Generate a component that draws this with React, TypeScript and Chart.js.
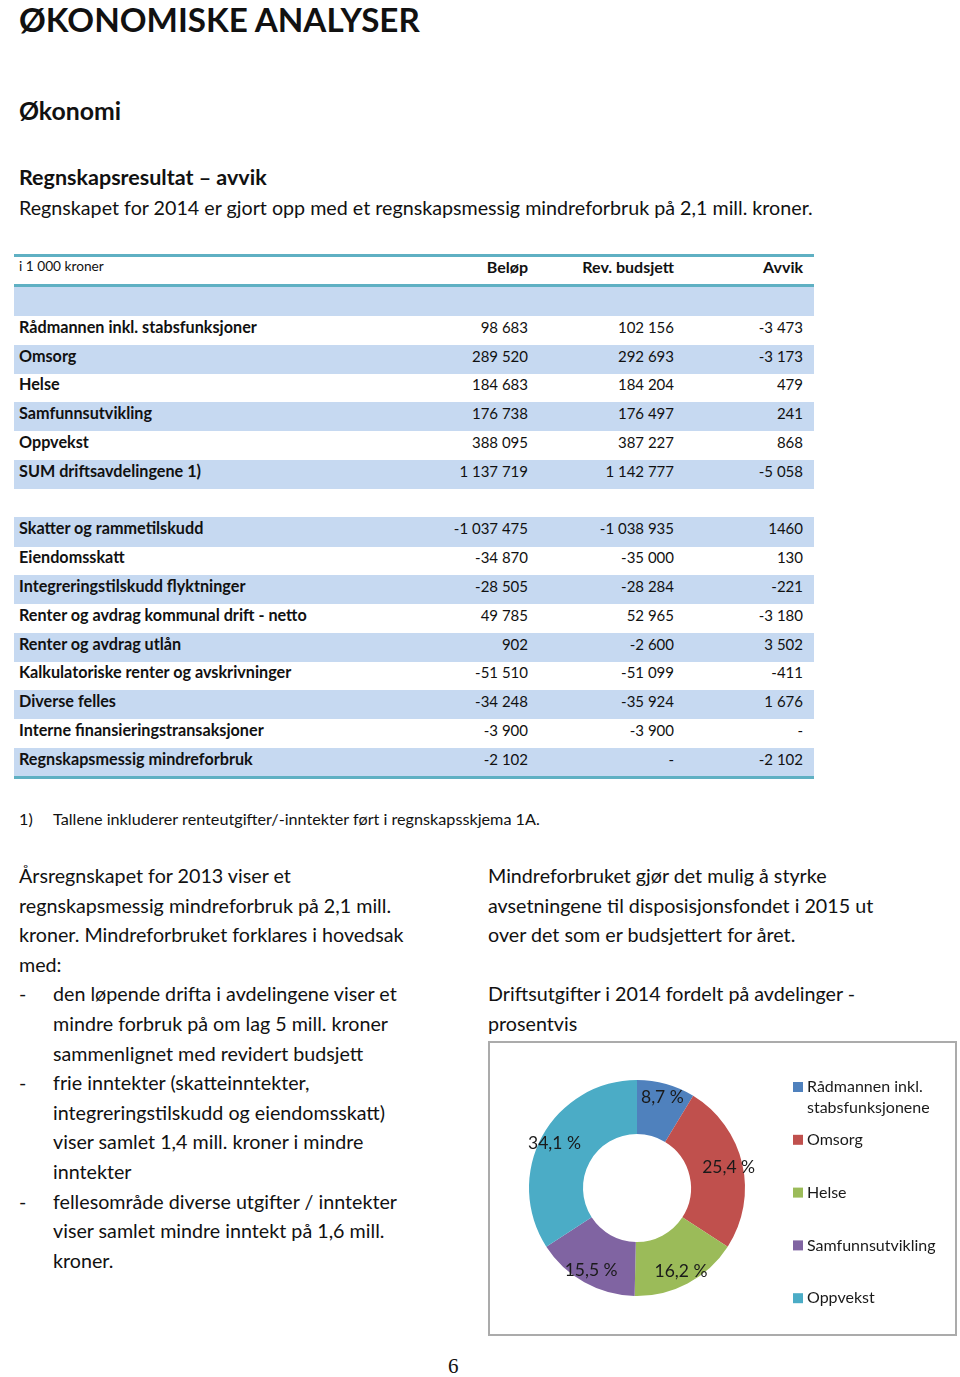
import React, { useEffect, useRef } from "react";
import { Chart, registerables } from "chart.js";

Chart.register(...registerables);

// ---------- Table data ----------
const tableHeader = ["i 1 000 kroner", "Beløp", "Rev. budsjett", "Avvik"];
const rowLabels = [
  "",
  "Rådmannen inkl. stabsfunksjoner",
  "Omsorg",
  "Helse",
  "Samfunnsutvikling",
  "Oppvekst",
  "SUM driftsavdelingene  1)",
  "",
  "Skatter og rammetilskudd",
  "Eiendomsskatt",
  "Integreringstilskudd flyktninger",
  "Renter og avdrag kommunal drift - netto",
  "Renter og avdrag utlån",
  "Kalkulatoriske renter og avskrivninger",
  "Diverse felles",
  "Interne finansieringstransaksjoner",
  "Regnskapsmessig mindreforbruk",
];
const belop = ["", "98 683", "289 520", "184 683", "176 738", "388 095", "1 137 719", "", "-1 037 475", "-34 870", "-28 505", "49 785", "902", "-51 510", "-34 248", "-3 900", "-2 102"];
const revBudsjett = ["", "102 156", "292 693", "184 204", "176 497", "387 227", "1 142 777", "", "-1 038 935", "-35 000", "-28 284", "52 965", "-2 600", "-51 099", "-35 924", "-3 900", "-"];
const avvik = ["", "-3 473", "-3 173", "479", "241", "868", "-5 058", "", "1460", "130", "-221", "-3 180", "3 502", "-411", "1 676", "-", "-2 102"];

// ---------- Chart data ----------
const chartLabels = ["Rådmannen inkl. stabsfunksjonene", "Omsorg", "Helse", "Samfunnsutvikling", "Oppvekst"];
const chartValues = [8.7, 25.4, 16.2, 15.5, 34.1];
const chartColors = ["#4f81bd", "#c0504d", "#9bbb59", "#8064a2", "#4bacc6"];

// ---------- Text ----------
const leftLines: [string, string][] = [
  ["", "Årsregnskapet for 2013 viser et"],
  ["", "regnskapsmessig mindreforbruk på 2,1 mill."],
  ["", "kroner. Mindreforbruket forklares i hovedsak"],
  ["", "med:"],
  ["-", "den løpende drifta i avdelingene viser et"],
  ["", "mindre forbruk på om lag 5 mill. kroner"],
  ["", "sammenlignet med revidert budsjett"],
  ["-", "frie inntekter (skatteinntekter,"],
  ["", "integreringstilskudd og eiendomsskatt)"],
  ["", "viser samlet 1,4 mill. kroner i mindre"],
  ["", "inntekter"],
  ["-", "fellesområde diverse utgifter / inntekter"],
  ["", "viser samlet mindre inntekt på 1,6 mill."],
  ["", "kroner."],
];
const rightLines = [
  "Mindreforbruket gjør det mulig å styrke",
  "avsetningene til disposisjonsfondet i 2015 ut",
  "over det som er budsjettert for året.",
  "",
  "Driftsutgifter i 2014 fordelt på avdelinger -",
  "prosentvis",
];

const FONT = "Lato, 'Open Sans', sans-serif";
const TEAL = "#5fb0c3";
const ROWBLUE = "#c6d9f1";

const ROW_TOP = 287;
const ROW_H = 28.8;
const COL_RIGHT = [528, 674, 803];
const BODY = 19.7;

function fmtPct(v: number) {
  return v.toFixed(1).replace(".", ",") + " %";
}

const sliceLabelPlugin = {
  id: "sliceLabels",
  afterDatasetsDraw(chart: any) {
    const ctx = chart.ctx;
    const meta = chart.getDatasetMeta(0);
    ctx.save();
    ctx.font = "17.5px Lato";
    ctx.fillStyle = "#1a1a1a";
    ctx.textAlign = "center";
    ctx.textBaseline = "middle";
    meta.data.forEach((arc: any, i: number) => {
      const p = arc.getProps(["x", "y", "startAngle", "endAngle", "innerRadius", "outerRadius"], true);
      const mid = (p.startAngle + p.endAngle) / 2;
      const r = p.innerRadius + (p.outerRadius - p.innerRadius) * 0.74;
      ctx.fillText(fmtPct(chartValues[i]), p.x + Math.cos(mid) * r, p.y + Math.sin(mid) * r);
    });
    ctx.restore();
  },
};

const legendPlugin = {
  id: "sideLegend",
  afterDraw(chart: any) {
    const ctx = chart.ctx;
    ctx.save();
    ctx.font = "16px Lato";
    ctx.textBaseline = "middle";
    ctx.textAlign = "left";
    const markerX = 303;
    const textX = 317;
    const maxW = 140;
    const firstY = 44;
    const step = 52.8;
    const lineH = 21;
    chartLabels.forEach((label, i) => {
      const y0 = firstY + i * step;
      ctx.fillStyle = chartColors[i];
      ctx.fillRect(markerX, y0 - 5, 10, 10);
      const words = label.split(" ");
      const lines: string[] = [];
      let cur = "";
      words.forEach((w) => {
        const test = cur ? cur + " " + w : w;
        if (ctx.measureText(test).width > maxW && cur) {
          lines.push(cur);
          cur = w;
        } else cur = test;
      });
      if (cur) lines.push(cur);
      ctx.fillStyle = "#1a1a1a";
      lines.forEach((ln, k) => ctx.fillText(ln, textX, y0 + k * lineH));
    });
    ctx.restore();
  },
};

function DoughnutChart() {
  const ref = useRef<HTMLCanvasElement>(null);
  useEffect(() => {
    if (!ref.current) return;
    const chart = new Chart(ref.current, {
      type: "doughnut",
      data: {
        labels: chartLabels,
        datasets: [
          {
            data: chartValues,
            backgroundColor: chartColors,
            borderWidth: 0,
          },
        ],
      },
      options: {
        responsive: false,
        animation: false,
        cutout: "50%",
        layout: { padding: { left: 39, right: 210, top: 37, bottom: 38 } },
        plugins: {
          legend: { display: false },
          tooltip: { enabled: false },
        },
      },
      plugins: [sliceLabelPlugin, legendPlugin],
    });
    return () => chart.destroy();
  }, []);
  return <canvas ref={ref} width={465} height={291} style={{ position: "absolute", left: 0, top: 0, width: 465, height: 291 }} />;
}

function Line({ top, left, size, bold, text, h }: { top: number; left: number; size: number; bold?: boolean; text: string; h: number }) {
  return (
    <div
      style={{
        position: "absolute",
        left,
        top: top - h / 2,
        height: h,
        lineHeight: h + "px",
        fontSize: size,
        fontWeight: bold ? 700 : 400,
        whiteSpace: "nowrap",
        color: "#111",
      }}
    >
      {text}
    </div>
  );
}

export default function App() {
  return (
    <div
      style={{
        position: "absolute",
        left: 0,
        top: 0,
        width: 960,
        height: 1377,
        background: "#fff",
        fontFamily: FONT,
        overflow: "hidden",
      }}
    >
      <Line top={19.5} left={19} size={33.2} bold text="ØKONOMISKE ANALYSER" h={39} />
      <Line top={111} left={19} size={24.8} bold text="Økonomi" h={30} />
      <Line top={176.5} left={19} size={21.5} bold text="Regnskapsresultat – avvik" h={26} />
      <Line top={208} left={19} size={BODY} text="Regnskapet for 2014 er gjort opp med et regnskapsmessig mindreforbruk på 2,1 mill. kroner." h={26} />

      {/* table */}
      <div style={{ position: "absolute", left: 14, top: 254, width: 800, height: 3, background: TEAL }} />
      <Line top={266} left={19} size={13.7} text={tableHeader[0]} h={20} />
      {tableHeader.slice(1).map((t, j) => (
        <div
          key={"h" + j}
          style={{
            position: "absolute",
            left: COL_RIGHT[j] - 200,
            width: 200,
            textAlign: "right",
            top: 256.5,
            height: 20,
            lineHeight: "20px",
            fontSize: 16,
            fontWeight: 700,
            whiteSpace: "nowrap",
            color: "#111",
          }}
        >
          {t}
        </div>
      ))}
      <div style={{ position: "absolute", left: 14, top: 284, width: 800, height: 3, background: TEAL }} />
      {rowLabels.map((lab, i) => {
        const top = ROW_TOP + i * ROW_H;
        const vals = [belop[i], revBudsjett[i], avvik[i]];
        return (
          <div key={"r" + i}>
            {i % 2 === 0 ? (
              <div style={{ position: "absolute", left: 14, top, width: 800, height: ROW_H + 0.5, background: ROWBLUE }} />
            ) : null}
            <div
              style={{
                position: "absolute",
                left: 19,
                top: top - 3,
                height: ROW_H,
                lineHeight: ROW_H + "px",
                fontSize: 16.2,
                fontWeight: 700,
                whiteSpace: "nowrap",
                color: "#111",
              }}
            >
              {lab}
            </div>
            {vals.map((v, j) => (
              <div
                key={j}
                style={{
                  position: "absolute",
                  left: COL_RIGHT[j] - 200,
                  width: 200,
                  textAlign: "right",
                  top: top - 3,
                  height: ROW_H,
                  lineHeight: ROW_H + "px",
                  fontSize: 15,
                  whiteSpace: "nowrap",
                  color: "#111",
                }}
              >
                {v}
              </div>
            ))}
          </div>
        );
      })}
      <div style={{ position: "absolute", left: 14, top: 776, width: 800, height: 3, background: TEAL }} />

      <Line top={819} left={19} size={16.2} text="1)" h={22} />
      <Line top={819} left={53} size={16.2} text="Tallene inkluderer renteutgifter/-inntekter ført i regnskapsskjema 1A." h={22} />

      {leftLines.map(([dash, t], i) => (
        <div key={"l" + i}>
          {dash ? <Line top={876 + i * 29.6} left={19} size={BODY} text={dash} h={28} /> : null}
          <Line top={876 + i * 29.6} left={i >= 4 ? 53 : 19} size={BODY} text={t} h={28} />
        </div>
      ))}
      {rightLines.map((t, i) => (t ? <Line key={"rt" + i} top={876 + i * 29.6} left={488} size={BODY} text={t} h={28} /> : null))}

      <div
        style={{
          position: "absolute",
          left: 488,
          top: 1041,
          width: 469,
          height: 295,
          boxSizing: "border-box",
          border: "2px solid #ababab",
        }}
      >
        <DoughnutChart />
      </div>

      <div
        style={{
          position: "absolute",
          left: 448,
          top: 1356,
          fontFamily: "'Liberation Serif', 'DejaVu Serif', serif",
          fontSize: 21,
          lineHeight: "20px",
          height: 20,
          color: "#111",
        }}
      >
        6
      </div>
    </div>
  );
}
